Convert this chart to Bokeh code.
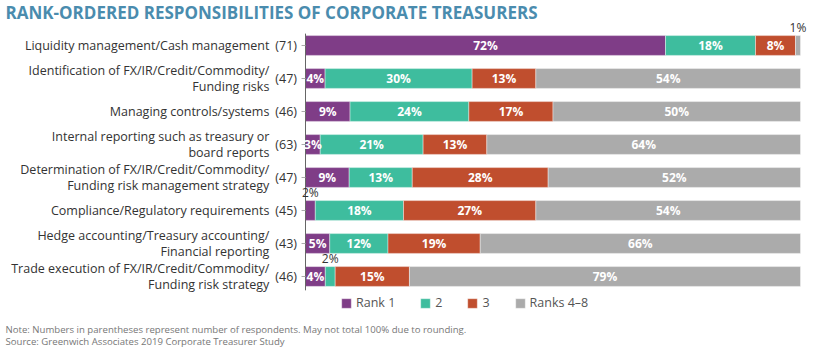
import numpy as np
import pandas as pd
from bokeh.plotting import figure
from bokeh.models import ColumnDataSource, Range1d, Legend, LegendItem
from bokeh.core.properties import value
from bokeh.embed import file_html
from bokeh.resources import INLINE

# ---------------- data ----------------
title_text = "RANK-ORDERED RESPONSIBILITIES OF CORPORATE TREASURERS"
categories = [
    "Liquidity management/Cash management",
    "Identification of FX/IR/Credit/Commodity/\nFunding risks",
    "Managing controls/systems",
    "Internal reporting such as treasury or\nboard reports",
    "Determination of FX/IR/Credit/Commodity/\nFunding risk management strategy",
    "Compliance/Regulatory requirements",
    "Hedge accounting/Treasury accounting/\nFinancial reporting",
    "Trade execution of FX/IR/Credit/Commodity/\nFunding risk strategy",
]
respondents = [71, 47, 46, 63, 47, 45, 43, 46]
rank1 = [72, 4, 9, 3, 9, 2, 5, 4]
rank2 = [18, 30, 24, 21, 13, 18, 12, 2]
rank3 = [8, 13, 17, 13, 28, 27, 19, 15]
rank4_8 = [1, 54, 50, 64, 52, 54, 66, 79]
series_names = ["Rank 1", "2", "3", "Ranks 4–8"]
series_colors = ["#7f3d87", "#3ebd9e", "#c04e2e", "#ababab"]
note_text = "Note: Numbers in parentheses represent number of respondents. May not total 100% due to rounding."
source_text = "Source: Greenwich Associates 2019 Corporate Treasurer Study"

FONT = "Open Sans"

# ---------------- figure ----------------
W, H = 819, 355
p = figure(width=W, height=H, output_backend="svg", toolbar_location=None,
           min_border=0, x_range=Range1d(-61.616, 103.838), y_range=Range1d(9.394, -1.3636))
p.axis.visible = False
p.grid.visible = False
p.outline_line_color = None

n = len(categories)
ys = list(range(n))
vals = np.array([rank1, rank2, rank3, rank4_8], dtype=float)
totals = vals.sum(axis=0)
norm = vals / totals * 100.0

data = {"y": ys}
keys = ["r1", "r2", "r3", "r4"]
for k, row in zip(keys, norm):
    data[k] = list(row)
src = ColumnDataSource(data)

renderers = p.hbar_stack(keys, y="y", height=0.6, color=series_colors, source=src,
                         line_color="white", line_width=0.4)

# axis line and ticks
p.segment(x0=[0], y0=[-0.36], x1=[0], y1=[7.42], line_color="#666666", line_width=1)
p.segment(x0=[-0.8] * n, y0=ys, x1=[0] * n, y1=ys, line_color="#aaaaaa", line_width=1)

# value labels
cum = np.cumsum(norm, axis=0)
left = cum - norm
in_x, in_y, in_t = [], [], []
out_x, out_y, out_t = [], [], []
for s in range(4):
    for i in range(n):
        v = vals[s, i]
        cx = (left[s, i] + cum[s, i]) / 2
        if v >= 3:
            in_x.append(cx); in_y.append(i); in_t.append(f"{int(v)}%")
        else:
            out_x.append(cx); out_y.append(i - 0.3); out_t.append(f"{int(v)}%")
p.text(x=in_x, y=in_y, text=in_t, text_color="white", text_font=value(FONT),
       text_font_style="bold", text_font_size="12px", text_align="center",
       text_baseline="middle")
p.text(x=out_x, y=out_y, text=out_t, text_color="#333333", text_font=value(FONT),
       text_font_size="12px", text_align="center", text_baseline="bottom")

# category labels and respondent counts
p.text(x=[-7.3] * n, y=ys, text=categories, text_color="#333333", text_font=value(FONT),
       text_font_size="12.5px", text_align="right", text_baseline="middle",
       text_line_height=0.94)
p.text(x=[-6.1] * n, y=ys, text=[f"({c})" for c in respondents], text_color="#333333",
       text_font=value(FONT), text_font_size="12.5px", text_align="left",
       text_baseline="middle")

# title
p.text(x=[-60.6], y=[-1.0], text=[title_text], text_color="#4a8cae", text_font=value(FONT),
       text_font_style="bold", text_font_size="17px", text_align="left",
       text_baseline="middle")

# notes
p.text(x=[-60.6, -60.6], y=[8.61, 8.97], text=[note_text, source_text], text_color="#777777",
       text_font=value(FONT), text_font_size="9.6px", text_align="left",
       text_baseline="middle")

# legend
items = [LegendItem(label=nm, renderers=[r]) for nm, r in zip(series_names, renderers)]
legend = Legend(items=items, orientation="horizontal", location=(340, 44),
                glyph_width=12, glyph_height=12, label_standoff=4, spacing=24,
                padding=0, margin=0, border_line_color=None, background_fill_alpha=0,
                label_text_font=FONT, label_text_font_size="12.5px",
                label_text_color="#555555", label_height=12, label_width=1)
p.add_layout(legend)

open("out.html", "w").write(file_html(p, INLINE))
